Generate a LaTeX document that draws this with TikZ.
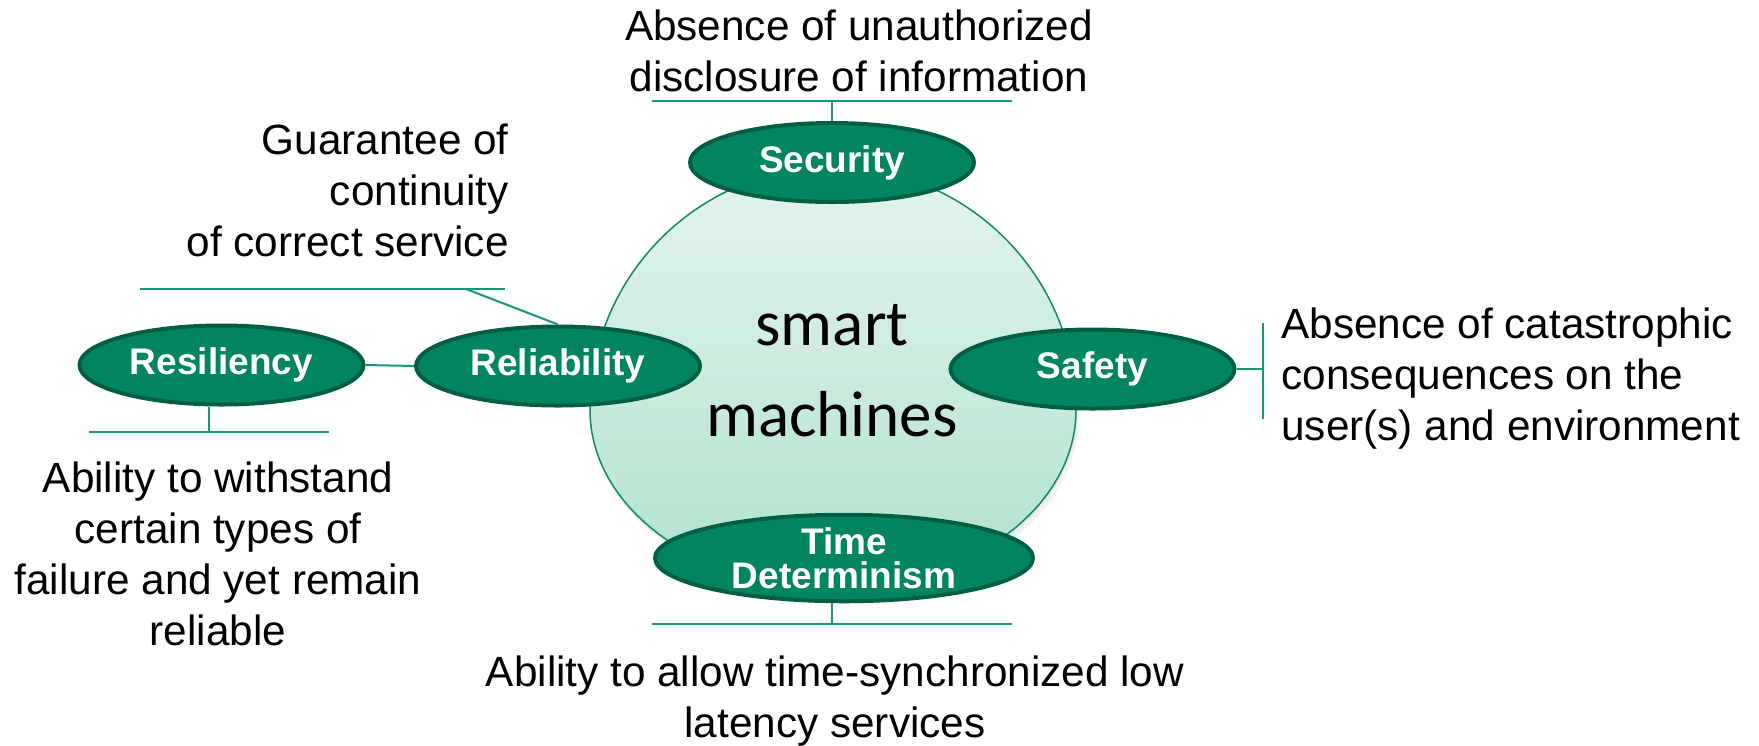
\documentclass[tikz,border=0pt]{standalone}
\usepackage{fontspec}
\setmainfont{Liberation Sans}
\newfontfamily\hubfont{Carlito}
\usetikzlibrary{shapes.geometric}
\definecolor{pillfill}{RGB}{0,133,96}
\definecolor{pillline}{RGB}{0,94,68}
\definecolor{linkgreen}{RGB}{26,150,118}
\definecolor{ringline}{RGB}{16,138,104}
\definecolor{hubtop}{RGB}{228,244,237}
\definecolor{hubbottom}{RGB}{176,226,205}

\begin{document}
\begin{tikzpicture}[x=0.5pt,y=-0.5pt,
  pill/.style={ellipse, draw=pillline, line width=2pt, fill=pillfill, text=white,
    inner sep=0pt, minimum width=142pt, minimum height=39.5pt,
    font=\fontsize{18.5}{17}\selectfont\bfseries, align=center},
  note/.style={inner sep=0pt, font=\fontsize{21.15}{25.5}\selectfont},
  link/.style={draw=linkgreen, line width=1pt}]
\useasboundingbox (0,0) rectangle (1759,745);

% soft shadow under the hub
\begin{scope}[shift={(3,7)}]
  \fill[black, opacity=0.05] (590,410) arc[start angle=180,end angle=360,x radius=243,y radius=243]
    arc[start angle=0,end angle=180,x radius=243,y radius=178] -- cycle;
\end{scope}
\begin{scope}[shift={(1,3)}]
  \fill[black, opacity=0.05] (590,410) arc[start angle=180,end angle=360,x radius=243,y radius=243]
    arc[start angle=0,end angle=180,x radius=243,y radius=178] -- cycle;
\end{scope}

% hub
\shadedraw[top color=hubtop, bottom color=hubbottom, draw=ringline, line width=0.75pt]
  (590,410) arc[start angle=180,end angle=360,x radius=243,y radius=243]
  arc[start angle=0,end angle=180,x radius=243,y radius=178] -- cycle;
% anchor=base of a multi-line node sits on its last line
\node[font=\hubfont\fontsize{32.5}{45.5}\selectfont, align=center, anchor=base, inner sep=0pt]
  (hub) at (832,436) {smart\\machines};

% attributes
\node[pill] (sec) at (832,162.5) {Security};
\node[pill] (rel) at (558,366) {Reliability};
\node[pill] (res) at (221.5,365) {Resiliency};
\node[pill] (saf) at (1092.5,369) {Safety};
\node[pill, minimum width=189pt, minimum height=42pt] (td) at (844,558) {Time\\Determinism};

% descriptions
\node[note, anchor=base, align=center] (secnote) at (859,91)
  {Absence of unauthorized\\disclosure of information};
\node[note, anchor=base east, align=right] (relnote) at (509,256)
  {Guarantee of\\continuity\\of correct service};
\node[note, anchor=base, align=center] (resnote) at (218,645)
  {Ability to withstand\\certain types of\\failure and yet remain\\reliable};
\node[note, anchor=base west, align=left] (safnote) at (1281,440)
  {Absence of catastrophic\\consequences on the\\user(s) and environment};
\node[note, anchor=base, align=center] (tdnote) at (835,737)
  {Ability to allow time-synchronized low\\latency services};

% bars and ticks
\coordinate (secbarL) at (652,101);
\coordinate (secbarR) at (1012,101);
\draw[link] (secbarL) -- (secbarR);
\draw[link] (sec.north) -- (sec.north |- secbarL);

\coordinate (relbarL) at (140,289);
\coordinate (relbarR) at (505,289);
\coordinate (relbend) at (466,289);
\draw[link] (relbarL) -- (relbarR);
\draw[link] (relbend) -- (rel.north);

\draw[link] (res.east) -- (rel.west);

\coordinate (resbarL) at (89,432);
\coordinate (resbarR) at (329,432);
\coordinate (restick) at (209,432);
\draw[link] (resbarL) -- (resbarR);
\draw[link] (restick) -- (restick |- res.south);

\coordinate (safbarT) at (1263,323);
\coordinate (safbarB) at (1263,419);
\draw[link] (safbarT) -- (safbarB);
\draw[link] (saf.east) -- (saf.east -| safbarT);

\coordinate (tdbarL) at (652,624);
\coordinate (tdbarR) at (1012,624);
\coordinate (tdtick) at (832,624);
\draw[link] (tdbarL) -- (tdbarR);
\draw[link] (tdtick) -- (tdtick |- td.south);
\end{tikzpicture}
\end{document}
